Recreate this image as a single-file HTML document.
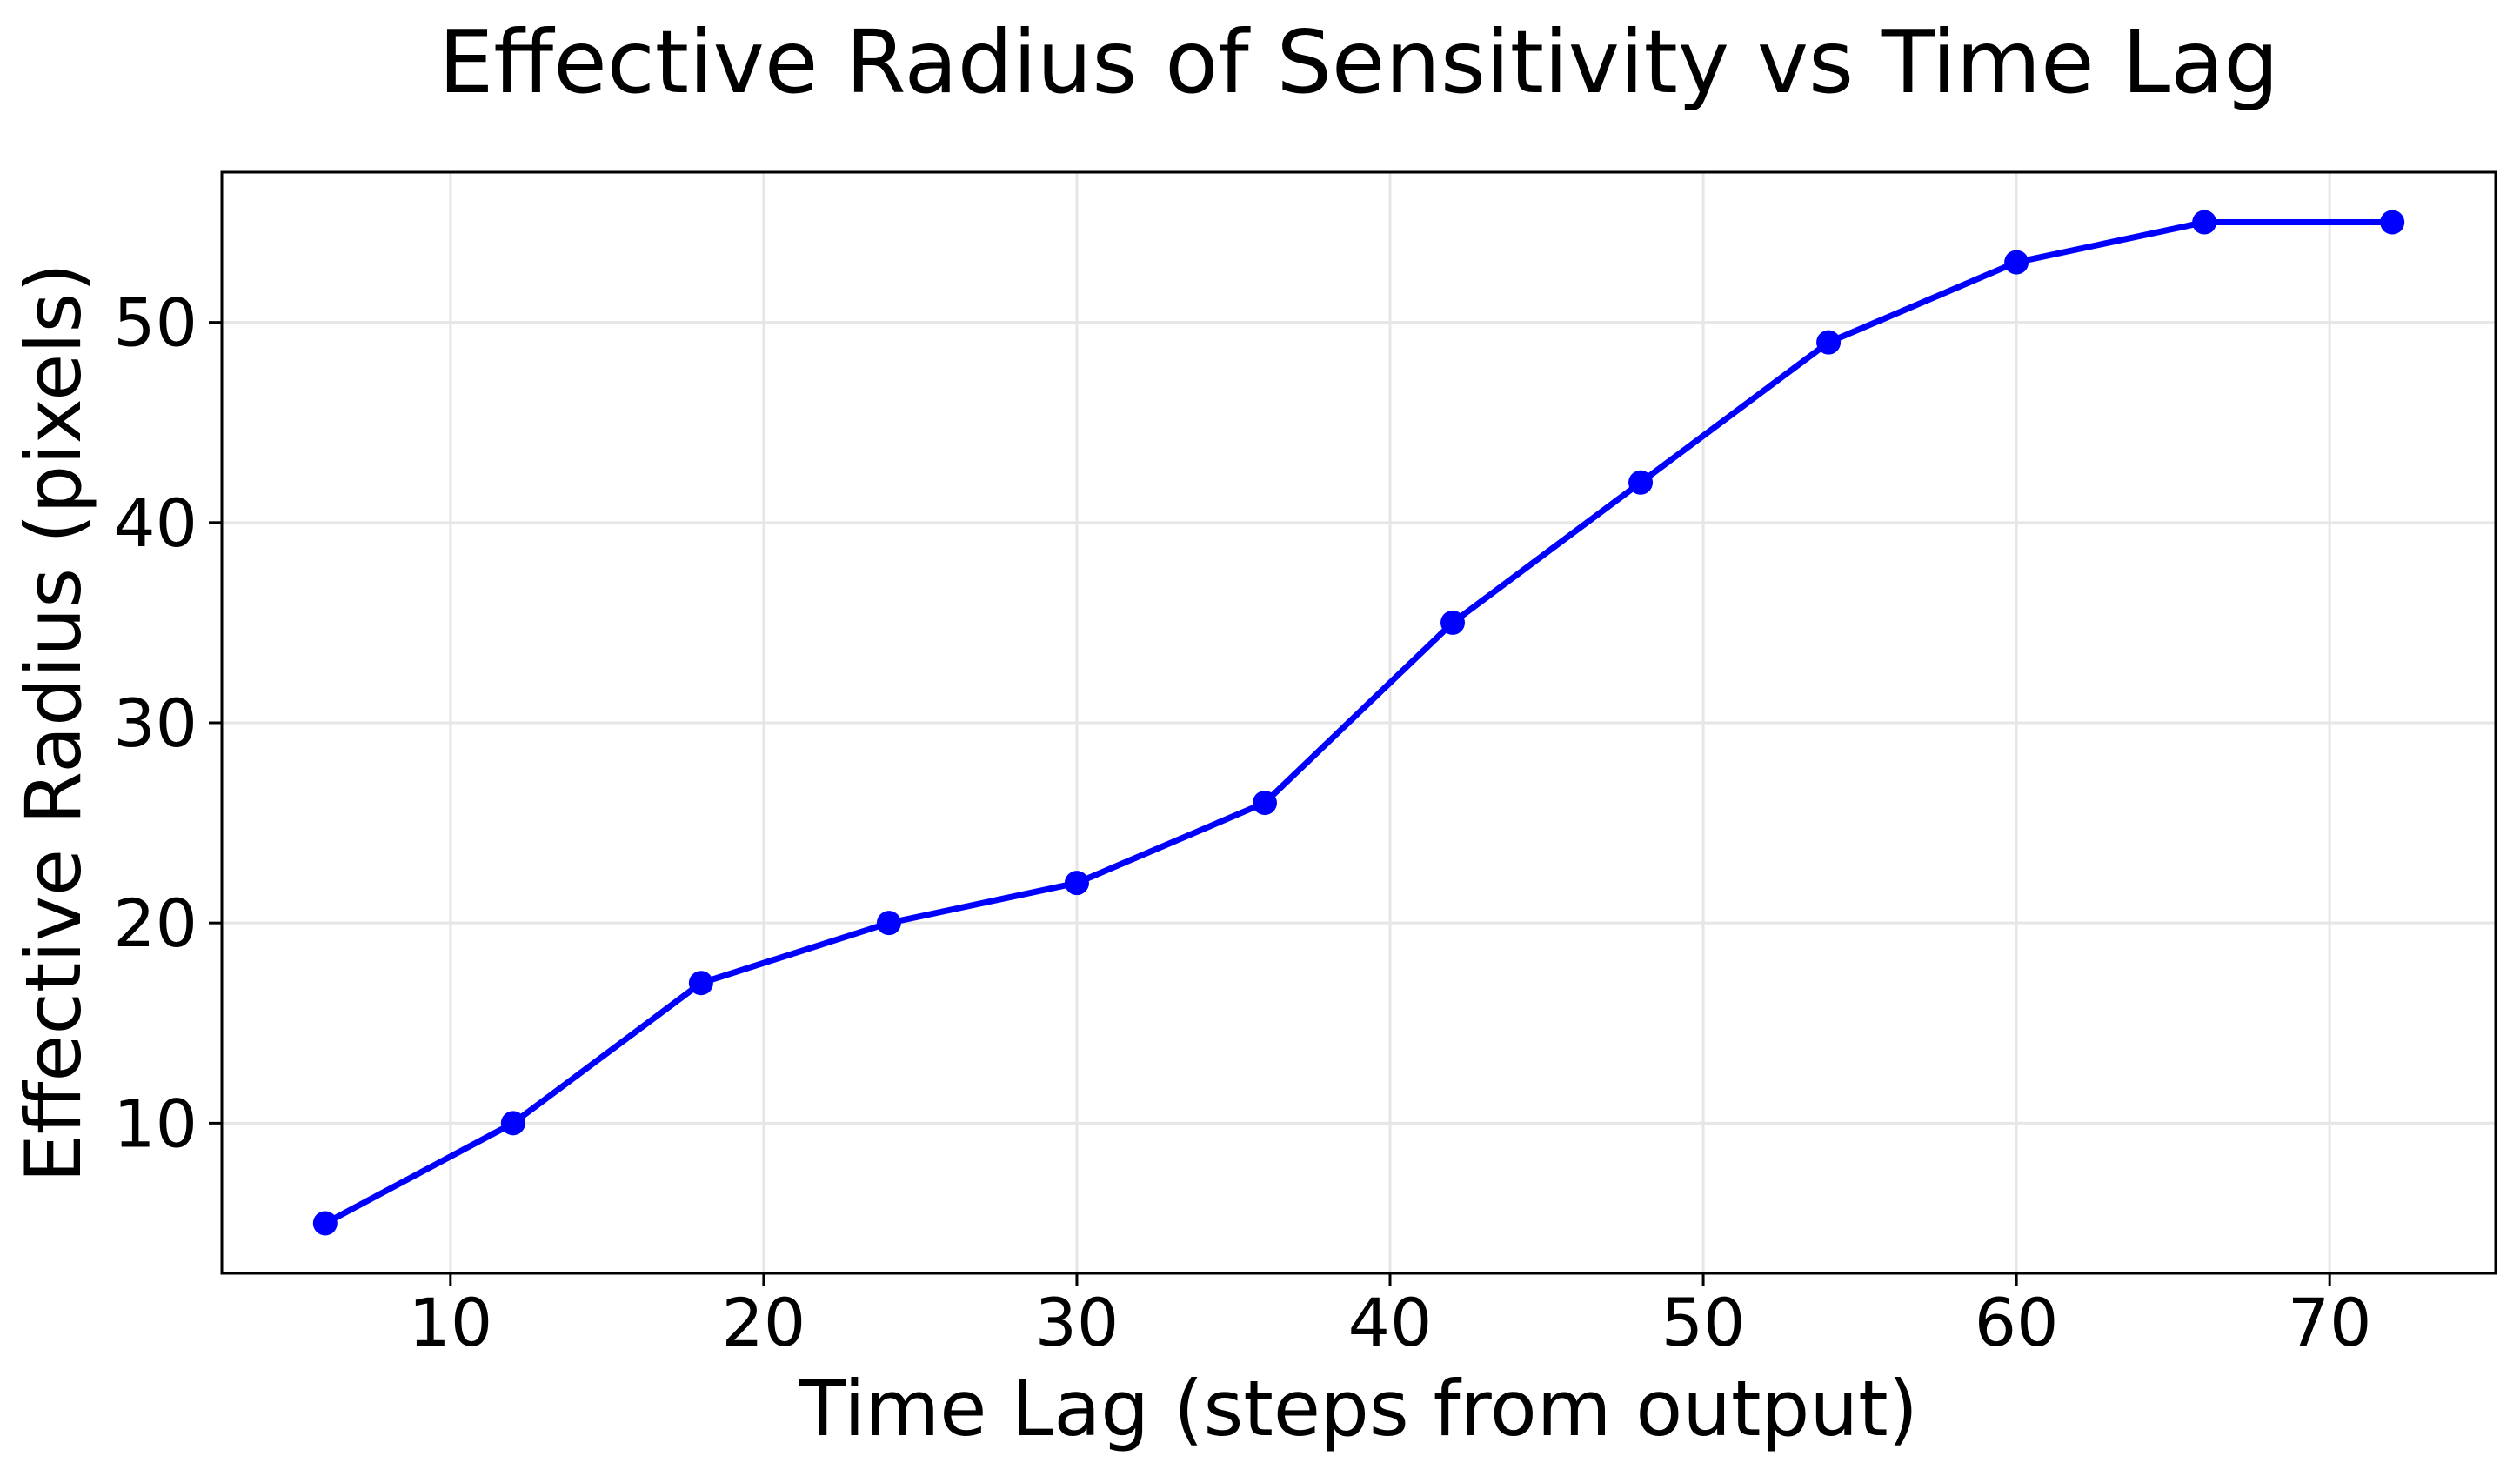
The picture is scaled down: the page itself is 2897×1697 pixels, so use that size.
<!DOCTYPE html>
<html><head><meta charset="utf-8"><style>
html,body{margin:0;padding:0;background:#fff;}
svg{display:block;font-family:"DejaVu Sans","Liberation Sans",sans-serif;}
</style></head><body>
<svg id="chart" width="2897" height="1697" viewBox="0 0 2897 1697" xmlns="http://www.w3.org/2000/svg">
<rect width="2897" height="1697" fill="#fff"/>
<text x="1562" y="106" font-size="100" text-anchor="middle" fill="#000">Effective Radius of Sensitivity vs Time Lag</text>
<g id="grid"></g>
<g id="series"></g>
<rect x="255" y="198" width="2614" height="1266" fill="none" stroke="#000" stroke-width="3"/>
<g id="ticks"></g>
<text x="1562" y="1650" font-size="88" text-anchor="middle" fill="#000">Time Lag (steps from output)</text>
<text transform="translate(92,831) rotate(-90)" font-size="88" text-anchor="middle" fill="#000">Effective Radius (pixels)</text>
</svg>
<script>
const timeLags = [6,12,18,24,30,36,42,48,54,60,66,72];
const radii = [5,10,17,20,22,26,35,42,49,53,55,55];
const xTicks = [10,20,30,40,50,60,70];
const yTicks = [10,20,30,40,50];
const L=255,R=2869,T=198,B=1464;
const xMin=2.7,xMax=75.3,yMin=2.5,yMax=57.5;
const sx=v=>L+(v-xMin)/(xMax-xMin)*(R-L);
const sy=v=>B-(v-yMin)/(yMax-yMin)*(B-T);
const NS='http://www.w3.org/2000/svg';
function mk(tag,attrs,parent){const e=document.createElementNS(NS,tag);for(const k in attrs)e.setAttribute(k,attrs[k]);parent.appendChild(e);return e;}
const grid=document.getElementById('grid'),ticks=document.getElementById('ticks'),series=document.getElementById('series');
xTicks.forEach(t=>{
  const x=sx(t);
  const g=mk('line',{x1:x,x2:x,y1:T,y2:B,stroke:'#e6e6e6','stroke-width':3},grid);
  
  
  const tk=mk('line',{x1:x,x2:x,y1:B,y2:B+15,stroke:'#000','stroke-width':3},ticks);
  
  
  const lb=mk('text',{x:x,y:B+83,'font-size':76,'text-anchor':'middle',fill:'#000'},ticks);
  lb.textContent=t;
  
  
});
yTicks.forEach(t=>{
  const y=sy(t);
  const g=mk('line',{x1:L,x2:R,y1:y,y2:y,stroke:'#e6e6e6','stroke-width':3},grid);
  
  
  const tk=mk('line',{x1:L-15,x2:L,y1:y,y2:y,stroke:'#000','stroke-width':3},ticks);
  
  
  const lb=mk('text',{x:L-28,y:y+27,'font-size':76,'text-anchor':'end',fill:'#000'},ticks);
  lb.textContent=t;
  
  
});
const pts=timeLags.map((t,i)=>sx(t)+','+sy(radii[i])).join(' ');
const pl=mk('polyline',{points:pts,fill:'none',stroke:'#0000ff','stroke-width':7,'stroke-linejoin':'round'},series);


timeLags.forEach((t,i)=>{
  const c=mk('circle',{cx:sx(t),cy:sy(radii[i]),r:14,fill:'#0000ff'},series);
  
  
});
</script>
</body></html>
